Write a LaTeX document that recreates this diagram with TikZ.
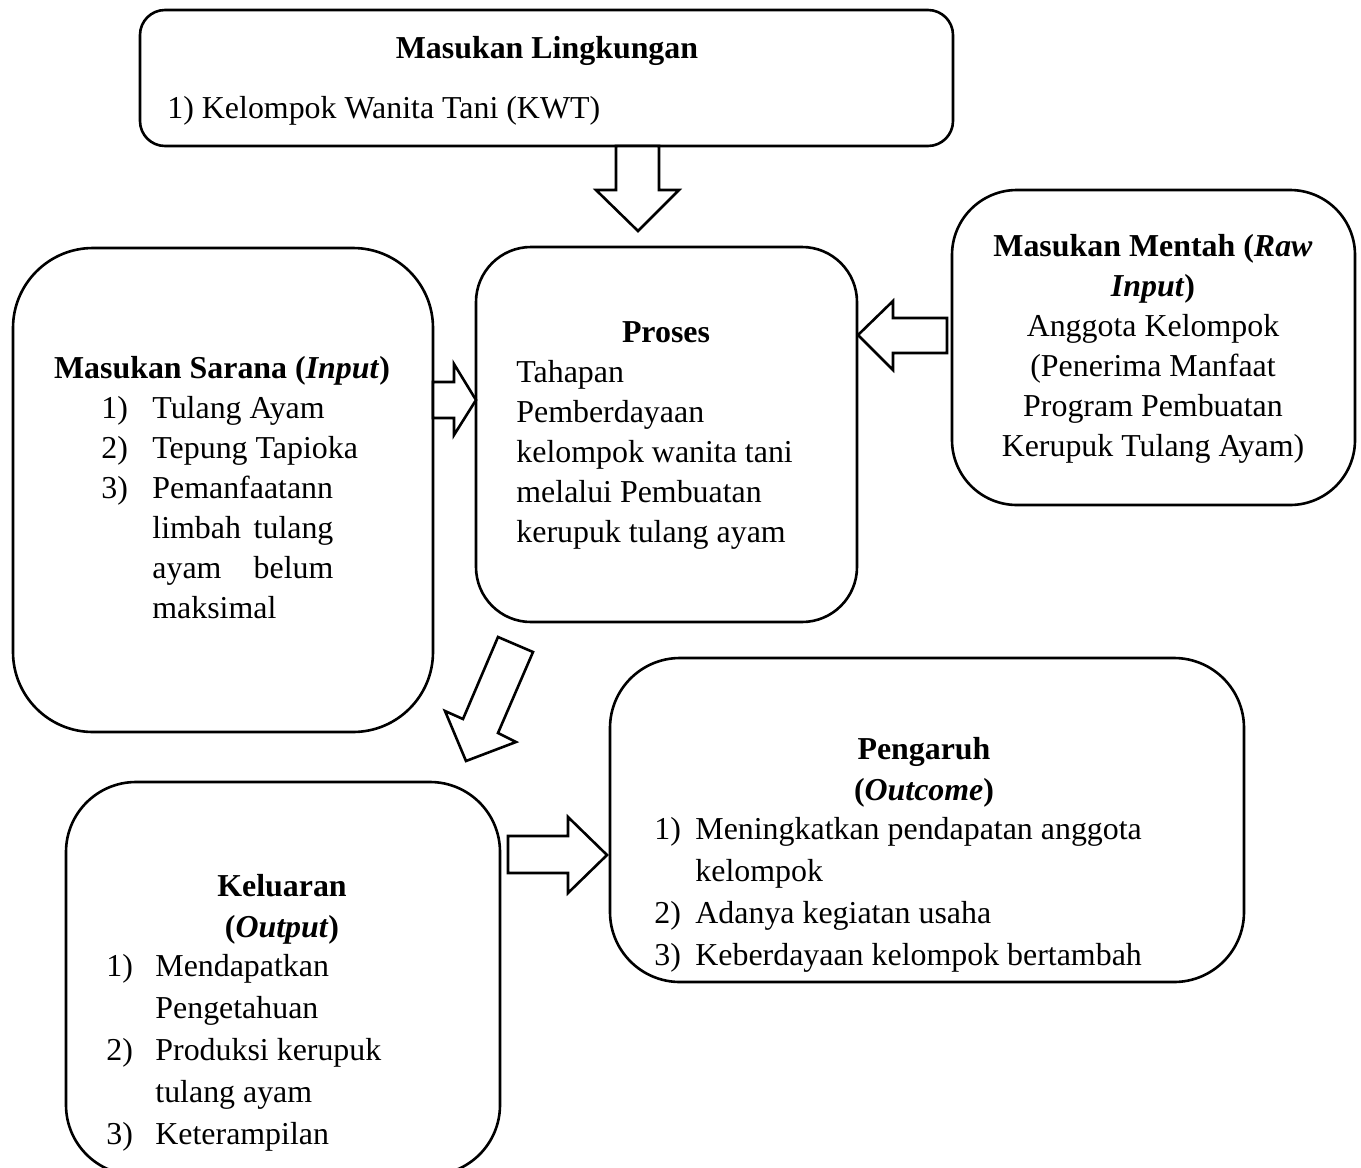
\documentclass[tikz,border=0pt]{standalone}
\usepackage{fontspec}
\setmainfont{Liberation Serif}
\begin{document}
\begin{tikzpicture}[x=0.5pt,y=-0.5pt,
  box/.style={draw, line width=1.3pt, rounded corners=#1, inner sep=0pt},
  txt/.style={inner sep=0pt, font=\fontsize{15.95}{20}\selectfont},
  hd/.style={inner sep=0pt, font=\fontsize{15.95}{20}\selectfont\bfseries},
  blk/.style={draw, line width=1.3pt, fill=white, line join=miter}]
\useasboundingbox (0,0) rectangle (1361,1168);
% boxes
\node[box=12.5pt, minimum width=406.5pt, minimum height=68pt] (lingk) at (546.5,78) {};
\node[box=40pt, minimum width=210pt, minimum height=242pt] (sarana) at (223,490) {};
\node[box=27.5pt, minimum width=190.5pt, minimum height=187.5pt] (proses) at (666.5,434.5) {};
\node[box=32.5pt, minimum width=201.5pt, minimum height=157.5pt] (mentah) at (1153.5,347.5) {};
\node[box=35pt, minimum width=217pt, minimum height=196.5pt] (keluar) at (283,978.5) {};
\node[box=35pt, minimum width=317pt, minimum height=162pt] (pengaruh) at (927,820) {};
% block arrows
\draw[blk] (616,146) -- (616,190) -- (596,190) -- (638,231) -- (679,190) -- (659,190) -- (659,146) -- cycle;
\draw[blk] (947,318) -- (893,318) -- (893,301) -- (858,335) -- (893,370) -- (893,353) -- (947,353) -- cycle;
\draw[blk] (433,382) -- (454,382) -- (454,364) -- (476,400) -- (454,435) -- (454,418) -- (433,418) -- cycle;
\draw[blk] (498,637) -- (533,652) -- (498,733) -- (516,742) -- (466,761) -- (445,711) -- (463,719) -- cycle;
\draw[blk] (508,836) -- (568,836) -- (568,817) -- (607,855) -- (568,893) -- (568,873) -- (508,873) -- cycle;
% top box text
\node[hd, anchor=base] (lt) at (547,58) {Masukan Lingkungan};
\node[txt, anchor=base west] (l1) at (167,118) {1) Kelompok Wanita Tani (KWT)};
% sarana
\node[hd, anchor=base] (st) at (222,378) {Masukan Sarana (\textit{Input})};
\node[txt, anchor=base west] (sn1) at (101,418) {1)};
\node[txt, anchor=base west] (s1) at (152,418) {Tulang Ayam};
\node[txt, anchor=base west] (sn2) at (101,458) {2)};
\node[txt, anchor=base west] (s2) at (152,458) {Tepung Tapioka};
\node[txt, anchor=base west] (sn3) at (101,498) {3)};
\node[txt, anchor=base west] (s3) at (152,498) {Pemanfaatann};
\node[txt, anchor=base west] (s4) at (152,538) {\hbox to 90.5pt{limbah\hfill tulang}};
\node[txt, anchor=base west] (s5) at (152,578) {\hbox to 90.5pt{ayam\hfill belum}};
\node[txt, anchor=base west] (s6) at (152,618) {maksimal};
% proses
\node[hd, anchor=base] (pt) at (666,342) {Proses};
\node[txt, anchor=base west] (p1) at (516,382) {Tahapan};
\node[txt, anchor=base west] (p2) at (516,422) {Pemberdayaan};
\node[txt, anchor=base west] (p3) at (516,462) {kelompok wanita tani};
\node[txt, anchor=base west] (p4) at (516,502) {melalui Pembuatan};
\node[txt, anchor=base west] (p5) at (516,542) {kerupuk tulang ayam};
% mentah
\node[hd, anchor=base] (mt1) at (1153,256) {Masukan Mentah (\textit{Raw}};
\node[hd, anchor=base] (mt2) at (1153,296) {\textit{Input})};
\node[txt, anchor=base] (m1) at (1153,336) {Anggota Kelompok};
\node[txt, anchor=base] (m2) at (1153,376) {(Penerima Manfaat};
\node[txt, anchor=base] (m3) at (1153,416) {Program Pembuatan};
\node[txt, anchor=base] (m4) at (1153,456) {Kerupuk Tulang Ayam)};
% keluaran
\node[hd, anchor=base] (kt1) at (282,896) {Keluaran};
\node[hd, anchor=base] (kt2) at (282,937) {(\textit{Output})};
\node[txt, anchor=base west] (kn1) at (106,976) {1)};
\node[txt, anchor=base west] (k1) at (155,976) {Mendapatkan};
\node[txt, anchor=base west] (k2) at (155,1018) {Pengetahuan};
\node[txt, anchor=base west] (kn2) at (106,1060) {2)};
\node[txt, anchor=base west] (k3) at (155,1060) {Produksi kerupuk};
\node[txt, anchor=base west] (k4) at (155,1102) {tulang ayam};
\node[txt, anchor=base west] (kn3) at (106,1144) {3)};
\node[txt, anchor=base west] (k5) at (155,1144) {Keterampilan};
% pengaruh
\node[hd, anchor=base] (gt1) at (924,759) {Pengaruh};
\node[hd, anchor=base] (gt2) at (924,800) {(\textit{Outcome})};
\node[txt, anchor=base west] (gn1) at (654,839) {1)};
\node[txt, anchor=base west] (g1) at (695,839) {Meningkatkan pendapatan anggota};
\node[txt, anchor=base west] (g2) at (695,881) {kelompok};
\node[txt, anchor=base west] (gn2) at (654,923) {2)};
\node[txt, anchor=base west] (g3) at (695,923) {Adanya kegiatan usaha};
\node[txt, anchor=base west] (gn3) at (654,965) {3)};
\node[txt, anchor=base west] (g4) at (695,965) {Keberdayaan kelompok bertambah};
\end{tikzpicture}
\end{document}
